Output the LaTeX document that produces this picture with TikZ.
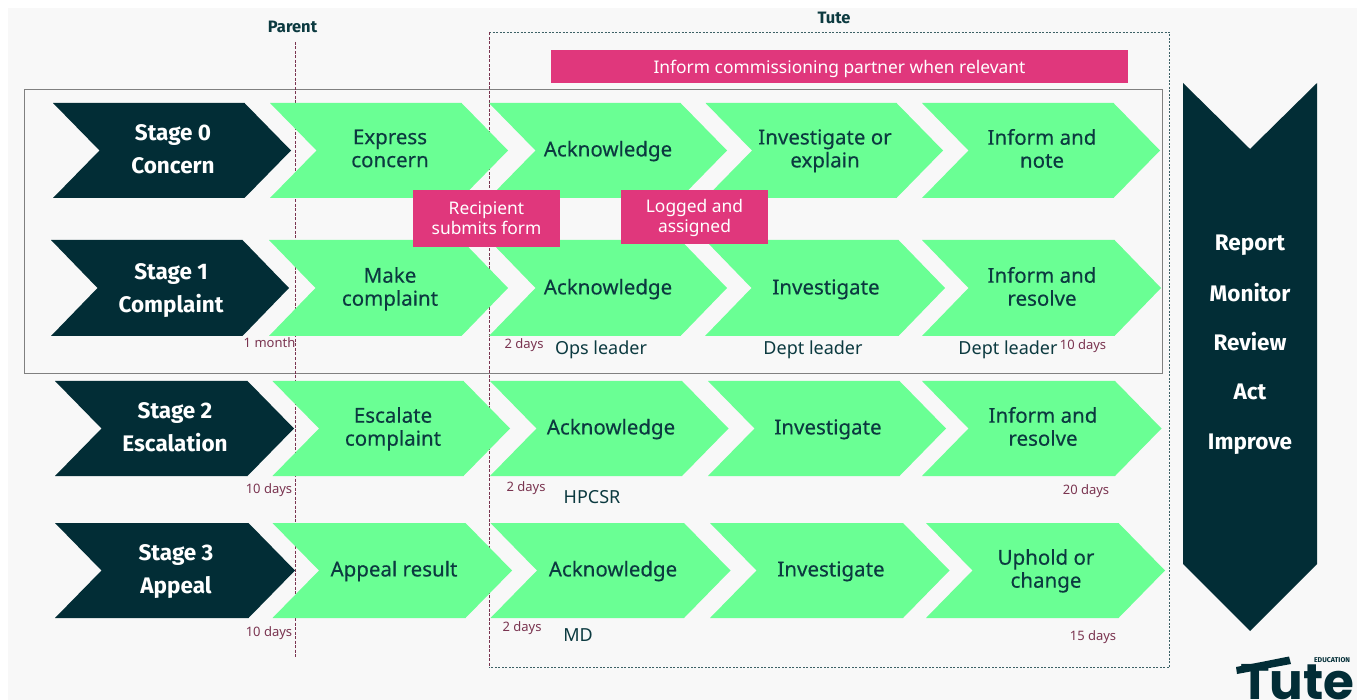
\documentclass[tikz,border=0pt]{standalone}
\usepackage{fontspec}
\setmainfont{Noto Sans}
\newfontfamily\logofont{Poppins}
\newfontfamily\semibold{Fira Sans}
\newfontfamily\medium[FakeBold=0.3]{Noto Sans}
\definecolor{darkteal}{HTML}{022D36}
\definecolor{mint}{HTML}{6AFF94}
\definecolor{rosepink}{HTML}{E0377C}
\definecolor{maroon}{HTML}{7A3450}
\definecolor{paper}{HTML}{F8F8F8}
\definecolor{inkteal}{HTML}{0C3A40}
\tikzset{
  lab/.style={yshift=-2.8pt,inner sep=0pt,align=center,font=\medium\fontsize{20.5}{23}\selectfont,text=inkteal,execute at begin node=\strut,execute at end node=\strut},
  stagelab/.style={yshift=-4pt,inner sep=0pt,align=center,font=\semibold\bfseries\fontsize{22.5}{33}\selectfont,text=white,execute at begin node=\strut,execute at end node=\strut},
  sidelab/.style={yshift=-2pt,inner sep=0pt,font=\semibold\bfseries\fontsize{22.5}{24}\selectfont,text=white,execute at begin node=\strut},
  pinklab/.style={yshift=-2pt,inner sep=0pt,align=center,font=\fontsize{17.4}{20}\selectfont,text=white,execute at begin node=\strut,execute at end node=\strut},
  daylab/.style={yshift=-1.5pt,inner sep=0pt,font=\fontsize{13}{15}\selectfont,text=maroon,execute at begin node=\strut},
  rolelab/.style={yshift=-2pt,inner sep=0pt,font=\fontsize{18}{20}\selectfont,text=inkteal,execute at begin node=\strut},
  headlab/.style={yshift=-1pt,inner sep=0pt,font=\semibold\bfseries\fontsize{16.5}{18}\selectfont,text=inkteal,execute at begin node=\strut},
  pinkbox/.style={fill=rosepink},
}
% #1 colour, #2 left x, #3 right tip x, #4 top y, #5 bottom y
\newcommand{\chev}[5]{%
  \pgfmathsetmacro{\midy}{(#4+#5)/2}%
  \fill[#1] (#2,#4) -- (#3-46.5,#4) -- (#3,\midy) -- (#3-46.5,#5) -- (#2,#5) -- (#2+46.5,\midy) -- cycle;}
\begin{document}
\begin{tikzpicture}[x=1pt,y=-1pt]
\useasboundingbox (0,0) rectangle (1357,700);
\begin{scope}
\clip (0,0) rectangle (1357,700);
\fill[white] (0,0) rectangle (1357,700);
\fill[paper] (8,8) rectangle (1357,700);

% frames
\draw[gray,line width=1pt] (24,89.5) rectangle (1162,374);
\draw[inkteal!80,line width=.7pt,dash pattern=on 2pt off 1.5pt] (489,32.5) -- (1169.5,32.5) -- (1169.5,667) -- (489,667);
\draw[maroon,line width=.8pt,dash pattern=on 3pt off 1.5pt] (489,32.5) -- (489,667);
\draw[maroon,line width=.8pt,dash pattern=on 3pt off 1.5pt] (295,42) -- (295,657);

% stage chevrons
\chev{darkteal}{53}{291}{103}{198}
\chev{darkteal}{51}{289}{240}{336}
\chev{darkteal}{55}{294}{381}{476}
\chev{darkteal}{55}{295}{523}{618}
% row 0
\chev{mint}{270}{508}{103}{198}
\chev{mint}{489}{727}{103}{198}
\chev{mint}{705.5}{943}{103}{198}
\chev{mint}{922}{1160}{103}{198}
% row 1
\chev{mint}{269}{508}{240}{336}
\chev{mint}{489}{727}{240}{336}
\chev{mint}{705}{945}{240}{336}
\chev{mint}{922}{1161}{240}{336}
% row 2
\chev{mint}{272.5}{510}{381}{476}
\chev{mint}{490}{728.5}{381}{476}
\chev{mint}{708}{946}{381}{476}
\chev{mint}{922}{1161.5}{381}{476}
% row 3
\chev{mint}{272.5}{512}{523}{618}
\chev{mint}{490.5}{730.5}{523}{618}
\chev{mint}{710}{949.5}{523}{618}
\chev{mint}{926}{1165}{523}{618}
% side band
\fill[darkteal] (1183,83) -- (1250,149) -- (1317,83) -- (1317,564) -- (1250,631) -- (1183,564) -- cycle;

% pink boxes
\node[pinkbox,inner sep=0pt,minimum width=577pt,minimum height=33pt] (bar) at (839.5,66.5) {};
\node[pinklab] (barT) at (839.5,68) {Inform commissioning partner when relevant};
\node[pinkbox,inner sep=0pt,minimum width=146.5pt,minimum height=57pt] (rec) at (486.5,218.5) {};
\node[pinklab] (recT) at (486.5,219) {Recipient\\submits form};
\node[pinkbox,inner sep=0pt,minimum width=147pt,minimum height=54pt] (log) at (694.5,217) {};
\node[pinklab] (logT) at (694.5,217) {Logged and\\assigned};

% stage labels
\node[stagelab] (s0) at (173,150) {Stage 0\\Concern};
\node[stagelab] (s1) at (171,288.5) {Stage 1\\Complaint};
\node[stagelab] (s2) at (175,428) {Stage 2\\Escalation};
\node[stagelab] (s3) at (176,570) {Stage 3\\Appeal};

% row labels
\node[lab] (a0) at (390,149) {Express\\concern};
\node[lab] (b0) at (608,149) {Acknowledge};
\node[lab] (c0) at (825,149) {Investigate or\\explain};
\node[lab] (d0) at (1042,149) {Inform and\\note};
\node[lab] (a1) at (390,287) {Make\\complaint};
\node[lab] (b1) at (608,287) {Acknowledge};
\node[lab] (c1) at (826,287) {Investigate};
\node[lab] (d1) at (1042,287) {Inform and\\resolve};
\node[lab] (a2) at (393,427) {Escalate\\complaint};
\node[lab] (b2) at (611,427) {Acknowledge};
\node[lab] (c2) at (828,427) {Investigate};
\node[lab] (d2) at (1043,427) {Inform and\\resolve};
\node[lab] (a3) at (394,569) {Appeal result};
\node[lab] (b3) at (613,569) {Acknowledge};
\node[lab] (c3) at (831,569) {Investigate};
\node[lab] (d3) at (1046,569) {Uphold or\\change};

% durations
\node[daylab] (t1) at (269.5,343.5) {1 month};
\node[daylab] (t2) at (524,344.5) {2 days};
\node[daylab] (t3) at (1083,345.5) {10 days};
\node[daylab] (t4) at (269,488.5) {10 days};
\node[daylab] (t5) at (526,486.5) {2 days};
\node[daylab] (t6) at (1086,489.5) {20 days};
\node[daylab] (t7) at (269,632) {10 days};
\node[daylab] (t8) at (522,626.5) {2 days};
\node[daylab] (t9) at (1093,635.5) {15 days};

% roles
\node[rolelab] (r1) at (601,349) {Ops leader};
\node[rolelab] (r2) at (813,349) {Dept leader};
\node[rolelab] (r3) at (1008,349) {Dept leader};
\node[rolelab] (r4) at (592,497) {HPCSR};
\node[rolelab] (r5) at (578,635.5) {MD};

% headers
\node[headlab] (hp) at (292.5,28) {Parent};
\node[headlab] (ht) at (834,19) {Tute};

% side band text
\node[sidelab] (m1) at (1250,244) {Report};
\node[sidelab] (m2) at (1250,294) {Monitor};
\node[sidelab] (m3) at (1250,343) {Review};
\node[sidelab] (m4) at (1250,393) {Act};
\node[sidelab] (m5) at (1250,443) {Improve};

% logo
\node[inner sep=0pt,anchor=base west,font=\logofont\bfseries\fontsize{50}{50}\selectfont,text=darkteal] (logo) at (1240,699.5) {Tute};
\fill[darkteal] (1236,667) -- (1289,656.5) -- (1291,664) -- (1237,674) -- cycle;
\node[inner sep=0pt,font=\semibold\bfseries\fontsize{7}{8}\selectfont,text=darkteal] (logo2) at (1332,660.5) {EDUCATION};
\end{scope}
\end{tikzpicture}
\end{document}
